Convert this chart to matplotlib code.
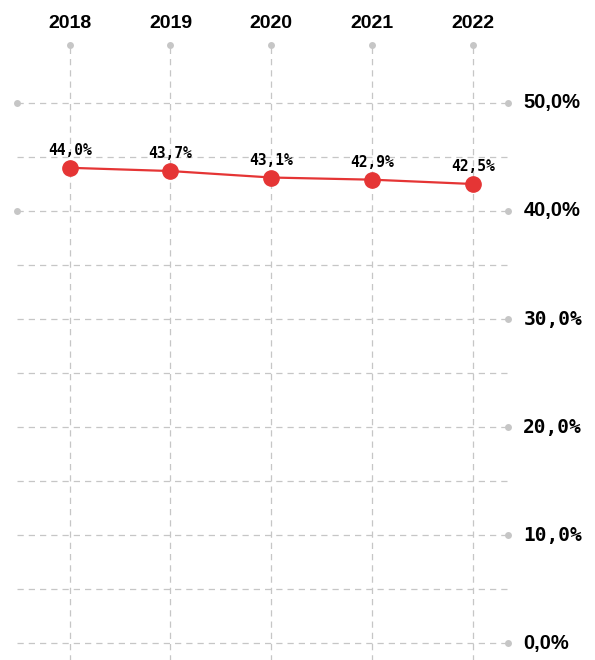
import matplotlib
matplotlib.use("Agg")
import matplotlib.pyplot as plt

years = [2018, 2019, 2020, 2021, 2022]
values = [44.0, 43.7, 43.1, 42.9, 42.5]
value_labels = ["44,0%", "43,7%", "43,1%", "42,9%", "42,5%"]
grid_levels = [0, 5, 10, 15, 20, 25, 30, 35, 40, 45, 50]
tick_levels = [0, 10, 20, 30, 40, 50]
tick_labels = ["0,0%", "10,0%", "20,0%", "30,0%", "40,0%", "50,0%"]

grey = "#c6c6c6"
red = "#e53535"

fig = plt.figure(figsize=(5.95, 6.6), dpi=100)
ax = fig.add_axes([0, 0, 1, 1])
ax.set_xlim(2017.309, 2023.211)
ax.set_ylim(-1.574, 59.537)
ax.axis("off")

x_left, x_right = 2017.477, 2022.388
y_top = 55.37

# horizontal dashed grid
for g in grid_levels:
    ax.plot([x_left, x_right], [g, g], color=grey, lw=0.9, dashes=(5, 4), zorder=1)

# vertical dashed grid, top dots, year labels
for yr in years:
    ax.plot([yr, yr], [-2, y_top], color=grey, lw=0.9, dashes=(5, 4), zorder=1)
    ax.plot(yr, y_top, "o", color=grey, ms=5, mec="none", zorder=2)
    ax.text(yr, 57.4, str(yr), ha="center", va="center", fontsize=14,
            fontweight="bold", family="Liberation Sans")

# right axis dots and labels
for t, lab in zip(tick_levels, tick_labels):
    ax.plot(2022.35, t, "o", color=grey, ms=5, mec="none", zorder=2)
    if t in (0, 40, 50):
        ax.text(2022.5, t, lab, ha="left", va="center", fontsize=14.5,
                fontweight="bold", family="Liberation Sans")
    else:
        ax.text(2022.5, t, lab, ha="left", va="center", fontsize=14,
                fontweight="bold", family="DejaVu Sans Mono")

# left dots at 40 and 50
for t in (40, 50):
    ax.plot(x_left, t, "o", color=grey, ms=5, mec="none", zorder=2)

# data line
ax.plot(years, values, color=red, lw=1.6, marker="o", ms=11, zorder=3)
for yr, v, lab in zip(years, values, value_labels):
    ax.text(yr, v + 1.6, lab, ha="center", va="center", fontsize=10.5,
            fontweight="bold", family="DejaVu Sans Mono")

fig.savefig("out.png", dpi=100)
